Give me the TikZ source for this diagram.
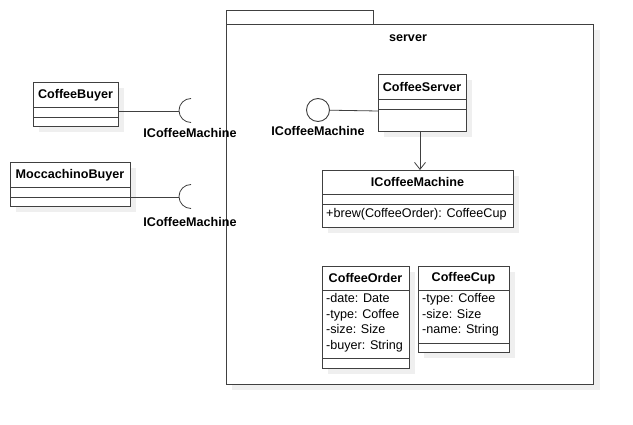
\documentclass[tikz,border=0pt]{standalone}
\usepackage{fontspec}
\setmainfont{Liberation Sans}
\usetikzlibrary{arrows.meta}
\definecolor{ln}{HTML}{404040}
\definecolor{shd}{HTML}{EFEFEF}
\tikzset{
  umlbox/.style={draw=ln, line width=0.9pt, fill=white},
  cls/.style={font=\bfseries\fontsize{12.6}{14}\selectfont},
  attr/.style={font=\fontsize{12.6}{15.5}\selectfont, align=left, anchor=north west, inner sep=0pt},
  lbl/.style={font=\bfseries\fontsize{12.6}{14}\selectfont},
  conn/.style={draw=ln, line width=0.8pt},
}
\begin{document}
\begin{tikzpicture}[x=1pt,y=-1pt]
\useasboundingbox (0,0) rectangle (633,425);
% package frame
\fill[shd] (232,30) rectangle (600,390);
\draw[umlbox] (226,10) rectangle (373,24);
\draw[umlbox] (226,24) rectangle (593,384);
\node[lbl] (srv) at (408,38) {server};

% CoffeeBuyer
\fill[shd] (39,88) rectangle (124,132);
\draw[umlbox] (33,82) rectangle (118,126);
\draw[ln, line width=0.9pt] (33,107) -- (118,107) (33,117) -- (118,117);
\node[cls] (cb) at (75.5,95) {CoffeeBuyer};
\coordinate (cbR) at (118,111);

% MoccachinoBuyer
\fill[shd] (16,168) rectangle (136,212);
\draw[umlbox] (10,162) rectangle (130,206);
\draw[ln, line width=0.9pt] (10,187) -- (130,187) (10,197) -- (130,197);
\node[cls] (mb) at (70,175) {MoccachinoBuyer};
\coordinate (mbR) at (130,197);

% sockets
\coordinate (s1) at (179,111);
\coordinate (s2) at (179,197);
\draw[conn] (cbR) -- (s1);
\draw[conn] (mbR) -- (s2);
\draw[conn] (191,122.5) arc[start angle=90, end angle=270, radius=12];
\draw[conn] (191,208.5) arc[start angle=90, end angle=270, radius=12];
\node[lbl] (l1) at (190,133) {ICoffeeMachine};
\node[lbl] (l2) at (190,222) {ICoffeeMachine};

% CoffeeServer
\fill[shd] (384,80) rectangle (472,137);
\draw[umlbox] (378,74) rectangle (466,131);
\draw[ln, line width=0.9pt] (378,99) -- (466,99) (378,109) -- (466,109);
\node[cls] (cs) at (422,87) {CoffeeServer};
\node[draw=ln, line width=0.9pt, circle, minimum size=23pt, inner sep=0pt, fill=white] (lol) at (318,110) {};
\coordinate (csL) at (378,111);
\draw[conn] (lol) -- (csL);
\node[lbl] (l3) at (318,131) {ICoffeeMachine};

% ICoffeeMachine
\fill[shd] (328,176) rectangle (519,233);
\draw[umlbox] (322,170) rectangle (513,227);
\draw[ln, line width=0.9pt] (322,194) -- (513,194) (322,204) -- (513,204);
\node[cls] (icm) at (417.5,182) {ICoffeeMachine};
\node[attr] (brew) at (326,208) {+brew(CoffeeOrder): CoffeeCup};

\coordinate (csB) at (420,131);
\coordinate (icmT) at (420,170);
\draw[conn, -{Straight Barb[length=7pt,width=11pt]}] (csB) -- (icmT);

% CoffeeOrder
\fill[shd] (328,272) rectangle (415,374);
\draw[umlbox] (322,266) rectangle (409,368);
\draw[ln, line width=0.9pt] (322,290) -- (409,290) (322,358) -- (409,358);
\node[cls] (co) at (365.5,278) {CoffeeOrder};
\node[attr] (coa) at (326,293.5) {-date: Date\\-type: Coffee\\-size: Size\\-buyer: String};

% CoffeeCup
\fill[shd] (424,272) rectangle (515,358);
\draw[umlbox] (418,266) rectangle (509,352);
\draw[ln, line width=0.9pt] (418,290) -- (509,290) (418,343) -- (509,343);
\node[cls] (cc) at (463.5,278) {CoffeeCup};
\node[attr] (cca) at (422,293.5) {-type: Coffee\\-size: Size\\-name: String};
\end{tikzpicture}
\end{document}
